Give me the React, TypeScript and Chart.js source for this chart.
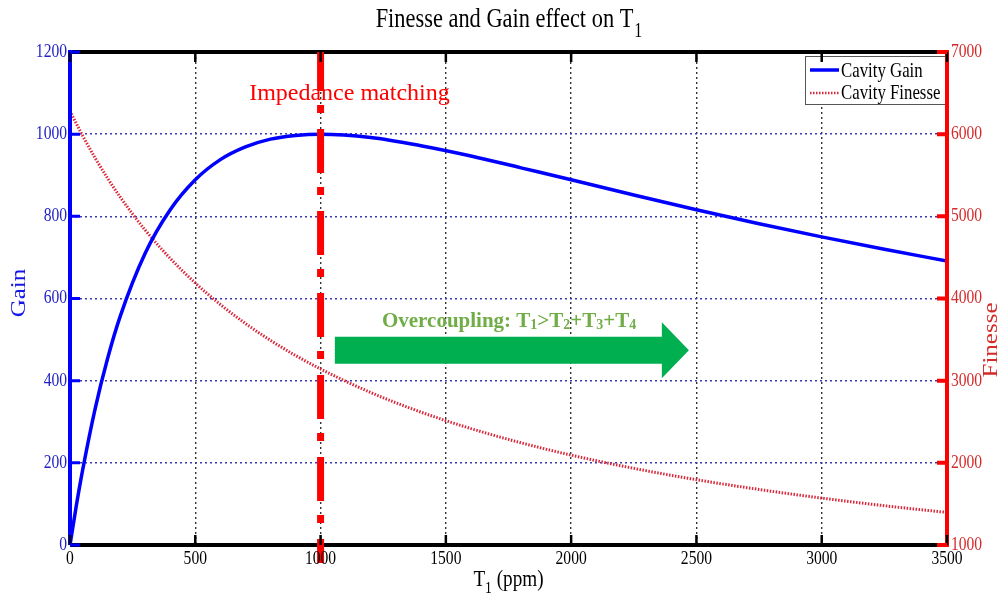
import React, { useEffect, useRef } from 'react';
import { Chart, registerables } from 'chart.js';

Chart.register(...registerables);

// ---- data ----
const transmissionPpm = [0, 25, 50, 100, 150, 200, 300, 400, 500, 600, 700, 800, 900, 1000, 1200, 1400, 1600, 1800, 2000, 2250, 2500, 2750, 3000, 3250, 3500];
const cavityGain = [0, 95, 181, 331, 454, 556, 710, 816, 889, 938, 969, 988, 997, 1000, 992, 972, 947, 918, 889, 852, 816, 782, 750, 720, 691];
const cavityFinesse = [6283, 6130, 5984, 5712, 5464, 5236, 4833, 4488, 4189, 3927, 3696, 3491, 3307, 3142, 2856, 2618, 2417, 2244, 2094, 1933, 1795, 1676, 1571, 1478, 1396];

const xTickValues = [0, 500, 1000, 1500, 2000, 2500, 3000, 3500];
const gainTickValues = [0, 200, 400, 600, 800, 1000, 1200];
const finesseTickValues = [1000, 2000, 3000, 4000, 5000, 6000, 7000];

const chartTitle = 'Finesse and Gain effect on T';
const chartTitleSub = '1';
const xTitle = 'T';
const xTitleSub = '1';
const xTitleRest = ' (ppm)';
const gainTitle = 'Gain';
const finesseTitle = 'Finesse';
const gainLabel = 'Cavity Gain';
const finesseLabel = 'Cavity Finesse';

// annotations (data units)
const impedanceMatchingT1 = 1000;
const impedanceText = 'Impedance matching';
const impedanceTextT1 = 715;
const impedanceTextGain = 1083;
const overcouplingParts = [
  { text: 'Overcoupling: T', sub: false },
  { text: '1', sub: true },
  { text: '>T', sub: false },
  { text: '2', sub: true },
  { text: '+T', sub: false },
  { text: '3', sub: true },
  { text: '+T', sub: false },
  { text: '4', sub: true },
];
const overcouplingT1 = 1245;
const overcouplingGain = 531;
const arrowTailT1 = 1057;
const arrowHeadT1 = 2362;
const arrowTipT1 = 2470;
const arrowGain = 474;
const arrowShaftHalf = 33;
const arrowHeadHalf = 68;

const SERIF = '"Liberation Serif", "Times New Roman", serif';
const SX = 0.8; // horizontal squeeze of the original figure's text

function condText(
  ctx: CanvasRenderingContext2D,
  text: string,
  x: number,
  y: number,
  size: number,
  color: string,
  align: CanvasTextAlign,
  baseline: CanvasTextBaseline,
  sx = SX,
  weight = 'normal'
) {
  ctx.save();
  ctx.translate(x, y);
  ctx.scale(sx, 1);
  ctx.font = `${weight} ${size}px ${SERIF}`;
  ctx.fillStyle = color;
  ctx.textAlign = align;
  ctx.textBaseline = baseline;
  ctx.fillText(text, 0, 0);
  ctx.restore();
}

function rotText(ctx: CanvasRenderingContext2D, text: string, x: number, y: number, size: number, color: string) {
  ctx.save();
  ctx.translate(x, y);
  ctx.rotate(-Math.PI / 2);
  ctx.scale(1, SX);
  ctx.font = `${size}px ${SERIF}`;
  ctx.fillStyle = color;
  ctx.textAlign = 'center';
  ctx.textBaseline = 'middle';
  ctx.fillText(text, 0, 0);
  ctx.restore();
}

const decorations = {
  id: 'decorations',
  afterDraw(chart: any) {
    const { ctx, chartArea: ca, scales } = chart;
    const sx = scales.x;
    const sy = scales.y;
    const sy1 = scales.y1;

    // green arrow
    {
      const x0 = sx.getPixelForValue(arrowTailT1);
      const xh = sx.getPixelForValue(arrowHeadT1);
      const xt = sx.getPixelForValue(arrowTipT1);
      const yc = sy.getPixelForValue(arrowGain);
      const sTop = sy.getPixelForValue(arrowGain + arrowShaftHalf);
      const sBot = sy.getPixelForValue(arrowGain - arrowShaftHalf);
      const hTop = sy.getPixelForValue(arrowGain + arrowHeadHalf);
      const hBot = sy.getPixelForValue(arrowGain - arrowHeadHalf);
      ctx.save();
      ctx.beginPath();
      ctx.moveTo(x0, sTop);
      ctx.lineTo(xh, sTop);
      ctx.lineTo(xh, hTop);
      ctx.lineTo(xt, yc);
      ctx.lineTo(xh, hBot);
      ctx.lineTo(xh, sBot);
      ctx.lineTo(x0, sBot);
      ctx.closePath();
      ctx.fillStyle = '#00B050';
      ctx.fill();
      ctx.restore();
    }

    // overcoupling text
    {
      ctx.save();
      const big = `bold 21px ${SERIF}`;
      const small = `bold 14px ${SERIF}`;
      let px = sx.getPixelForValue(overcouplingT1);
      const by = sy.getPixelForValue(overcouplingGain);
      ctx.fillStyle = '#70AD47';
      ctx.textAlign = 'left';
      ctx.textBaseline = 'alphabetic';
      for (const part of overcouplingParts) {
        ctx.font = part.sub ? small : big;
        ctx.fillText(part.text, px, part.sub ? by + 2 : by);
        px += ctx.measureText(part.text).width;
      }
      ctx.restore();
    }

    // legend
    {
      const lx = 805, lt = 56, lr = ca.right, lb = 105;
      ctx.save();
      ctx.fillStyle = '#ffffff';
      ctx.fillRect(lx, lt, lr - lx, lb - lt);
      ctx.strokeStyle = '#555555';
      ctx.lineWidth = 1;
      ctx.strokeRect(lx + 0.5, lt + 0.5, lr - lx - 1, lb - lt - 1);
      ctx.beginPath();
      ctx.moveTo(810, 70);
      ctx.lineTo(839, 70);
      ctx.strokeStyle = '#0000ff';
      ctx.lineWidth = 3.5;
      ctx.stroke();
      ctx.beginPath();
      ctx.setLineDash([1.5, 1.5]);
      ctx.moveTo(810, 93);
      ctx.lineTo(839, 93);
      ctx.strokeStyle = '#d8283a';
      ctx.lineWidth = 2.5;
      ctx.stroke();
      ctx.restore();
      condText(ctx, gainLabel, 841, 71, 21, '#000000', 'left', 'middle');
      condText(ctx, finesseLabel, 841, 93, 21, '#000000', 'left', 'middle');
    }

    // axis lines
    ctx.save();
    ctx.lineWidth = 4;
    ctx.strokeStyle = '#000000';
    ctx.beginPath();
    ctx.moveTo(ca.left, ca.top);
    ctx.lineTo(ca.right, ca.top);
    ctx.moveTo(ca.left, ca.bottom);
    ctx.lineTo(ca.right, ca.bottom);
    ctx.stroke();
    ctx.strokeStyle = '#0000ff';
    ctx.beginPath();
    ctx.moveTo(ca.left, ca.top - 2);
    ctx.lineTo(ca.left, ca.bottom);
    ctx.stroke();
    ctx.strokeStyle = '#ff0000';
    ctx.beginPath();
    ctx.moveTo(ca.right, ca.top - 2);
    ctx.lineTo(ca.right, ca.bottom + 2);
    ctx.stroke();
    ctx.restore();

    // impedance matching dash-dot line
    {
      const px = sx.getPixelForValue(impedanceMatchingT1);
      ctx.save();
      ctx.beginPath();
      ctx.setLineDash([44, 14, 8, 16]);
      ctx.lineDashOffset = 5;
      ctx.moveTo(px, ca.top);
      ctx.lineTo(px, ca.bottom + 18);
      ctx.strokeStyle = '#ff0000';
      ctx.lineWidth = 7;
      ctx.stroke();
      ctx.restore();
      ctx.save();
      ctx.font = `24px ${SERIF}`;
      ctx.fillStyle = '#ff0000';
      ctx.textAlign = 'left';
      ctx.textBaseline = 'alphabetic';
      ctx.fillText(impedanceText, sx.getPixelForValue(impedanceTextT1), sy.getPixelForValue(impedanceTextGain));
      ctx.restore();
    }

    // tick marks (inward)
    ctx.save();
    ctx.lineWidth = 2.5;
    ctx.strokeStyle = '#000000';
    ctx.beginPath();
    for (const v of xTickValues) {
      const px = sx.getPixelForValue(v);
      ctx.moveTo(px, ca.bottom);
      ctx.lineTo(px, ca.bottom - 10);
      ctx.moveTo(px, ca.top);
      ctx.lineTo(px, ca.top + 10);
    }
    ctx.stroke();
    ctx.strokeStyle = '#0000ff';
    ctx.lineWidth = 3;
    ctx.beginPath();
    for (const v of gainTickValues) {
      const py = sy.getPixelForValue(v);
      ctx.moveTo(ca.left, py);
      ctx.lineTo(ca.left + 10, py);
    }
    ctx.stroke();
    ctx.strokeStyle = '#ff0000';
    ctx.lineWidth = 4;
    ctx.beginPath();
    for (const v of finesseTickValues) {
      const py = sy1.getPixelForValue(v);
      ctx.moveTo(ca.right, py);
      ctx.lineTo(ca.right - 10, py);
    }
    ctx.stroke();
    ctx.restore();

    // tick labels
    for (const v of xTickValues) {
      condText(ctx, String(v), sx.getPixelForValue(v), ca.bottom + 14, 19, '#000000', 'center', 'middle', 0.82);
    }
    for (const v of gainTickValues) {
      condText(ctx, String(v), ca.left - 3, sy.getPixelForValue(v), 19, '#2222c8', 'right', 'middle', 0.82);
    }
    for (const v of finesseTickValues) {
      condText(ctx, String(v), ca.right + 4, sy1.getPixelForValue(v), 19, '#d42a2a', 'left', 'middle', 0.82);
    }

    // axis titles
    rotText(ctx, gainTitle, 20, 293, 25, '#1515e6');
    rotText(ctx, finesseTitle, 992, 340, 25, '#d42a2a');

    // x title with subscript
    {
      ctx.save();
      ctx.font = `24px ${SERIF}`;
      const w1 = ctx.measureText(xTitle).width;
      const w3 = ctx.measureText(xTitleRest).width;
      ctx.font = `17px ${SERIF}`;
      const w2 = ctx.measureText(xTitleSub).width;
      ctx.restore();
      const total = (w1 + w2 + w3) * SX;
      const cx = (ca.left + ca.right) / 2;
      let px = cx - total / 2;
      condText(ctx, xTitle, px, 586, 24, '#000000', 'left', 'alphabetic');
      px += w1 * SX;
      condText(ctx, xTitleSub, px, 593, 17, '#000000', 'left', 'alphabetic');
      px += w2 * SX;
      condText(ctx, xTitleRest, px, 586, 24, '#000000', 'left', 'alphabetic');
    }

    // chart title with subscript
    {
      ctx.save();
      ctx.font = `28px ${SERIF}`;
      const w1 = ctx.measureText(chartTitle).width;
      ctx.font = `20px ${SERIF}`;
      const w2 = ctx.measureText(chartTitleSub).width;
      ctx.restore();
      const total = (w1 + w2) * SX;
      const cx = (ca.left + ca.right) / 2;
      const px = cx - total / 2;
      condText(ctx, chartTitle, px, 27, 28, '#000000', 'left', 'alphabetic');
      condText(ctx, chartTitleSub, px + w1 * SX + 1, 37, 20, '#000000', 'left', 'alphabetic');
    }
  },
};

export default function App() {
  const canvasRef = useRef<HTMLCanvasElement>(null);

  useEffect(() => {
    const canvas = canvasRef.current;
    if (!canvas) return;
    const chart = new Chart(canvas, {
      type: 'line',
      data: {
        datasets: [
          {
            label: gainLabel,
            data: transmissionPpm.map((t, i) => ({ x: t, y: cavityGain[i] })),
            yAxisID: 'y',
            borderColor: '#0000ff',
            borderWidth: 3.5,
            pointRadius: 0,
            cubicInterpolationMode: 'monotone',
            fill: false,
          },
          {
            label: finesseLabel,
            data: transmissionPpm.map((t, i) => ({ x: t, y: cavityFinesse[i] })),
            yAxisID: 'y1',
            borderColor: '#d8283a',
            borderWidth: 3,
            borderDash: [1.5, 1.5],
            pointRadius: 0,
            cubicInterpolationMode: 'monotone',
            fill: false,
          },
        ],
      },
      options: {
        responsive: false,
        animation: false,
        devicePixelRatio: 1,
        layout: { padding: { top: 52, left: 0, right: 0, bottom: 0 } },
        plugins: {
          legend: { display: false },
          title: { display: false },
          tooltip: { enabled: false },
        },
        scales: {
          x: {
            type: 'linear',
            min: 0,
            max: 3500,
            ticks: { stepSize: 500, display: false },
            grid: { color: '#333333', lineWidth: 1.4, drawTicks: false },
            border: { display: false, dash: [2, 3] },
            afterFit: (s: any) => {
              s.height = 50;
            },
          },
          y: {
            type: 'linear',
            position: 'left',
            min: 0,
            max: 1200,
            ticks: { stepSize: 200, display: false },
            grid: { color: '#3a3ab4', lineWidth: 1.4, drawTicks: false },
            border: { display: false, dash: [2, 3] },
            afterFit: (s: any) => {
              s.width = 70;
            },
          },
          y1: {
            type: 'linear',
            position: 'right',
            min: 1000,
            max: 7000,
            ticks: { stepSize: 1000, display: false },
            grid: { drawOnChartArea: false, drawTicks: false },
            border: { display: false },
            afterFit: (s: any) => {
              s.width = 61;
            },
          },
        },
      },
      plugins: [decorations],
    } as any);
    return () => chart.destroy();
  }, []);

  return (
    <canvas
      ref={canvasRef}
      width={1008}
      height={595}
      style={{ position: 'absolute', left: 0, top: 0, width: 1008, height: 595 }}
    />
  );
}
